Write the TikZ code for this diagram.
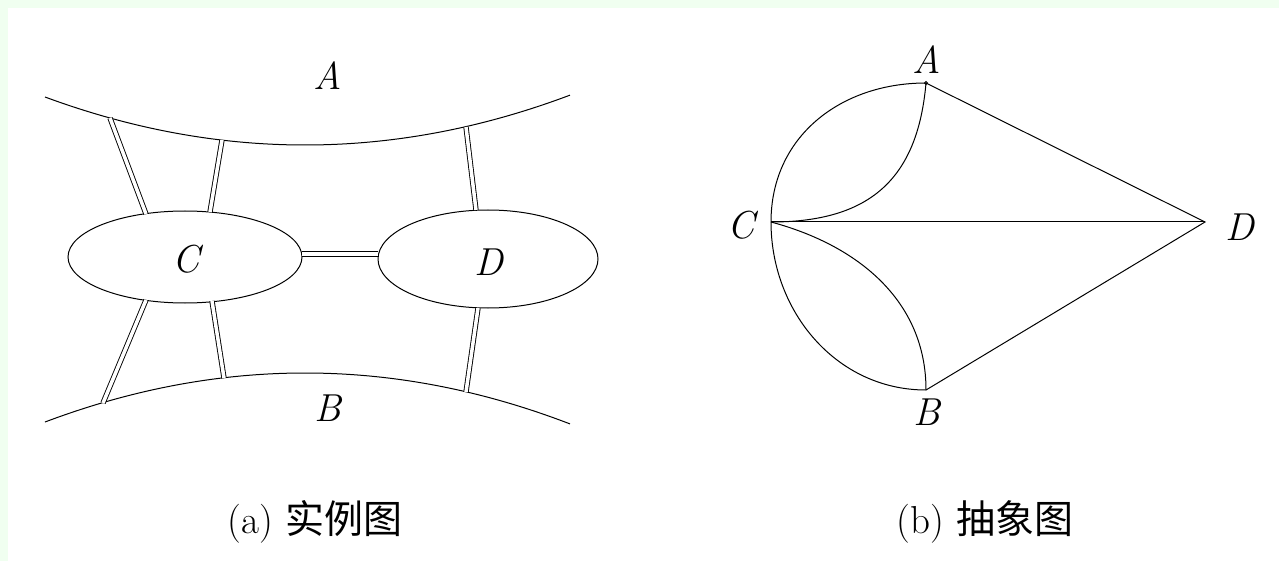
\documentclass[tikz,border=0pt]{standalone}
\usepackage{fontspec}
\newfontfamily\cjk{Noto Sans CJK SC}
\usetikzlibrary{shapes.geometric}
\definecolor{bggreen}{HTML}{F0FFF0}
\tikzset{
  edge/.style={line width=1pt},
  bridge/.style={line width=0.9pt, double=white, double distance=3.5pt},
  region/.style={ellipse, draw, line width=1pt, inner sep=0pt},
  lbl/.style={font=\fontsize{39}{44}\selectfont\itshape, inner sep=0pt},
  captext/.style={font=\fontsize{39}{44}\selectfont, anchor=base},
}
\begin{document}
\begin{tikzpicture}[x=1pt,y=-1pt]
\fill[bggreen] (0,0) rectangle (1279,561);
\fill[white] (8,8) rectangle (1279,561);
\useasboundingbox (0,0) rectangle (1279,561);

% ---- (a) ----
\draw[edge] plot[domain=45:570, samples=80, smooth] (\x, {145-7.1*((\x-305)/100)^2});
\draw[edge] plot[domain=45:570, samples=80, smooth] (\x, {373+7.25*((\x-305)/100)^2});
\node[region, minimum width=234pt, minimum height=92pt] (C) at (185,257) {};
\node[region, minimum width=220pt, minimum height=98pt] (D) at (488,259) {};
\node[lbl] (lC) at (186,259) {C};
\node[lbl] (lD) at (489,262) {D};
\node[lbl] (lA) at (328,76) {A};
\node[lbl] (lB) at (328,408) {B};

\coordinate (a1) at (110,118); \coordinate (c1) at (146,214);
\coordinate (a2) at (222,140); \coordinate (c2) at (210,212);
\coordinate (a3) at (466,127); \coordinate (d3) at (476,210);
\coordinate (c4) at (302,254); \coordinate (d4) at (378,254);
\coordinate (c5) at (146,300); \coordinate (b5) at (103,403);
\coordinate (c6) at (212,301); \coordinate (b6) at (224,378);
\coordinate (d7) at (478,308); \coordinate (b7) at (466,392);
\foreach \p/\q in {a1/c1,a2/c2,a3/d3,c4/d4,c5/b5,c6/b6,d7/b7}
  \draw[bridge] (\p) -- (\q);

% ---- (b) ----
\coordinate (vA) at (926,83);
\coordinate (vB) at (926,390);
\coordinate (vC) at (771,222);
\coordinate (vD) at (1205,222);
\draw[edge] (vA) -- (vD) -- (vB);
\draw[edge] (vC) -- (vD);
\draw[edge] (vC) to[out=90,in=180,looseness=1.05] (vA);
\draw[edge] (vC) to[out=0,in=-95,looseness=1.2] (vA);
\draw[edge] (vC) to[out=-90,in=180] (vB);
\draw[edge] (vC) to[out=-15,in=90] (vB);
\draw[line width=0.8pt] (vA) circle (1.5pt);
\node[lbl] (nA) at (927,60) {A};
\node[lbl] (nB) at (927,412) {B};
\node[lbl] (nC) at (741,225) {C};
\node[lbl] (nD) at (1240,227) {D};

% captions
\node[captext] (capa) at (315,533) {(a) {\cjk 实例图}};
\node[captext] (capb) at (985,533) {(b) {\cjk 抽象图}};
\end{tikzpicture}
\end{document}
